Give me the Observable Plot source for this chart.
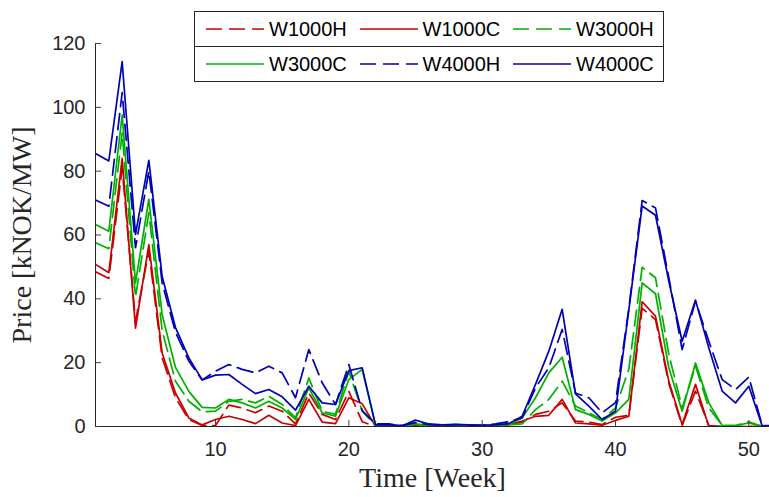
<!DOCTYPE html>
<html>
<head>
<meta charset="utf-8">
<script src="https://cdn.jsdelivr.net/npm/d3@7"></script>
<script src="https://cdn.jsdelivr.net/npm/@observablehq/plot@0.6"></script>
<style>
  body { margin: 0; background: #fff; }
  #wrap { position: relative; width: 769px; height: 497px; overflow: hidden; }
  #legend { position: absolute; left: 194px; top: 11px; width: 470px; background: #fff;
            font-family: "Liberation Sans", Arial, sans-serif; font-size: 20px; color: #000; }
  .row { display: flex; align-items: center; height: 36px; box-sizing: border-box;
         border: 1px solid #262626; }
  .row + .row { border-top: none; height: 35px; }
  .entry { display: flex; align-items: center; width: 153.5px; padding-left: 11px; box-sizing: border-box; }
  .entry svg { margin-right: 5px; flex: none; }
</style>
</head>
<body>
<div id="wrap"><div id="chart"></div><div id="legend"></div></div>
<script>
// ---- data ----
const weeks = d3.range(1, 53);
const xTicks = [10, 20, 30, 40, 50];
const yTicks = [0, 20, 40, 60, 80, 100, 120];
const seriesNames = ["W1000H", "W1000C", "W3000H", "W3000C", "W4000H", "W4000C"];

const W1000H = [48.5, 46.4, 81, 33, 55, 21.5, 9, 2.2, 0.3, 0.3,
  6.7, 5.8, 4.3, 6.4, 4.8, 0.8, 10.5, 3.8, 2.2, 11,
  1.5, 0, 0, 0, 0.1, 0, 0, 0, 0, 0,
  0.1, 0.5, 1.4, 3.8, 4.8, 7.4, 1.7, 1.4, 0.6, 2.9,
  3.5, 37, 33.5, 13.5, 0.3, 11.1, 0.3, 0, 0, 0,
  0, 0];
const W1000C = [50.8, 48.2, 84, 30.8, 57, 23, 10.5, 2.7, 0.5, 2.2,
  3.2, 2.2, 0.9, 3.5, 1.1, 0.3, 8.5, 1.4, 0.9, 9,
  7.1, 0.1, 0.1, 0.1, 0.2, 0.1, 0.1, 0.1, 0.1, 0.1,
  0.2, 0.5, 1.7, 3.2, 3.5, 8.5, 1.1, 0.8, 0.4, 1.9,
  3.2, 39.1, 34.6, 14.2, 0.6, 13.2, 0, 0, 0, 0,
  0, 0];
const W3000H = [57.6, 55.7, 92, 40.5, 67, 30, 14.2, 7.9, 4.6, 4.8,
  7.9, 8.5, 7.4, 9.5, 6.9, 2.7, 15.2, 4.8, 3.8, 17.3,
  4.8, 0.3, 0.3, 0.2, 0.5, 0.3, 0.3, 0.3, 0.2, 0.2,
  0.3, 0.5, 0.8, 5.3, 8.5, 14.2, 6.4, 4.3, 2.2, 5.8,
  18, 49.9, 46.6, 22.6, 5.8, 18.9, 5.8, 0.3, 0.3, 1.5,
  0, 0];
const W3000C = [63.3, 61.2, 97.6, 45, 71.2, 35, 18.5, 11, 6, 5.8,
  8.5, 7.4, 5.8, 7.9, 5.8, 2.2, 12.1, 4.3, 3.2, 14.7,
  17.9, 0.4, 0.4, 0.3, 0.8, 0.4, 0.3, 0.4, 0.3, 0.3,
  0.4, 0.6, 2.7, 9, 16.8, 21.7, 5.3, 3.8, 1.7, 4.3,
  8.5, 45, 41.6, 18.4, 4.8, 19.9, 7.4, 0.3, 0.3, 1.1,
  0.1, 0.1];
const W4000H = [71, 69, 104.6, 56, 80, 45, 29.5, 20.5, 14.6, 17.3,
  19.4, 17.9, 16.8, 18.9, 16.8, 9, 24.1, 13.7, 6.9, 19.4,
  5, 0.8, 0.8, 0.3, 1.2, 0.6, 0.4, 0.6, 0.5, 0.3,
  0.8, 1.5, 2.7, 12.1, 18.4, 30.4, 10.5, 9, 4.3, 7.5,
  37, 70.8, 68.5, 46.6, 24.1, 39.3, 26.7, 14.7, 11.6, 15.5,
  0.3, 0.3];
const W4000C = [85.5, 83.2, 114.3, 60.2, 83.4, 47, 31, 21.5, 14.6, 16.1,
  16.3, 13.2, 10.3, 11.6, 9.3, 5.1, 12.6, 7.4, 6.9, 17.5,
  18.4, 0.5, 0.6, 0.2, 2.0, 0.8, 0.5, 0.7, 0.5, 0.4,
  0.5, 0.9, 3.2, 13.2, 23.6, 36.7, 10.2, 6.4, 2.2, 4.8,
  36.5, 69.1, 66.2, 45.5, 26.7, 39.6, 24.6, 11.1, 7.4, 12.6,
  0.2, 0.2];

// ---- styles ----
const red = "#c80000", green = "#00b000", blue = "#0000b4";
const series = [
  {name: seriesNames[0], values: W1000H, color: red, dashed: true},
  {name: seriesNames[1], values: W1000C, color: red, dashed: false},
  {name: seriesNames[2], values: W3000H, color: green, dashed: true},
  {name: seriesNames[3], values: W3000C, color: green, dashed: false},
  {name: seriesNames[4], values: W4000H, color: blue, dashed: true},
  {name: seriesNames[5], values: W4000C, color: blue, dashed: false}
];
const DASH = "16,7";
const sans = "'Liberation Sans', Arial, Helvetica, sans-serif";
const serif = "'Liberation Serif', 'Times New Roman', serif";

const chart = Plot.plot({
  width: 769,
  height: 497,
  marginLeft: 95,
  marginRight: 0,
  marginTop: 43,
  marginBottom: 71,
  x: {domain: [1, 51.55]},
  y: {domain: [0, 120]},
  style: {fontFamily: sans, fontSize: "20px", color: "#262626", background: "white"},
  marks: [
    ...series.map(s => Plot.line(weeks.map((w, i) => ({week: w, price: s.values[i]})), {
      x: "week", y: "price", stroke: s.color, strokeWidth: 1.7,
      strokeDasharray: s.dashed ? DASH : null, clip: true
    })),
    Plot.ruleX([1], {stroke: "#262626", strokeWidth: 1}),
    Plot.ruleY([0], {stroke: "#262626", strokeWidth: 1}),
    Plot.axisX({ticks: xTicks, tickSize: -6, tickPadding: 21, label: null, fontSize: 20, stroke: "#404040", fill: "#262626"}),
    Plot.axisY({ticks: yTicks, tickSize: -6, tickPadding: 16, label: null, fontSize: 20, stroke: "#404040", fill: "#262626"}),
    Plot.axisX({ticks: [], label: "Time [Week]", labelAnchor: "center", labelArrow: "none", labelOffset: 60, dx: 4, fontFamily: serif, fontSize: 28, fill: "#262626"}),
    Plot.axisY({ticks: [], label: "Price [kNOK/MW]", labelAnchor: "center", labelArrow: "none", labelOffset: 84, dy: 4, fontFamily: serif, fontSize: 28, fill: "#262626"})
  ]
});
document.getElementById("chart").appendChild(chart);

// ---- legend (HTML, 2 rows x 3 entries) ----
const legend = d3.select("#legend");
for (let r = 0; r < 2; r++) {
  const row = legend.append("div").attr("class", "row");
  series.slice(r * 3, r * 3 + 3).forEach(s => {
    const e = row.append("div").attr("class", "entry");
    const svg = e.append("svg").attr("width", 58).attr("height", 6);
    svg.append("line").attr("x1", 0).attr("x2", 58).attr("y1", 3).attr("y2", 3)
      .attr("stroke", s.color).attr("stroke-width", 1.7)
      .attr("stroke-dasharray", s.dashed ? DASH : null);
    e.append("span").text(s.name);
  });
}
</script>
</body>
</html>
